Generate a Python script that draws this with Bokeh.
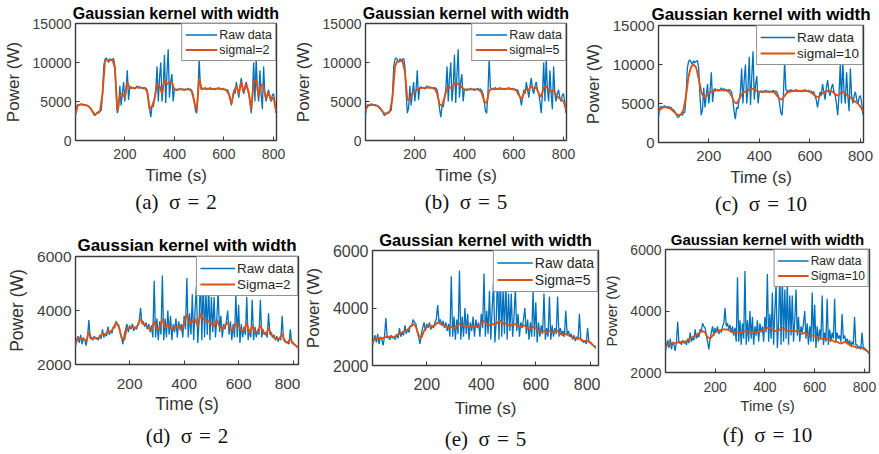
from bokeh.plotting import figure
from bokeh.layouts import column, row
from bokeh.models import Title, FixedTicker, Range1d, Legend, LegendItem
from bokeh.embed import file_html
from bokeh.resources import INLINE

# ---------------- data ----------------
# top row (same raw trace for a, b, c), sampled every 5 s from 0 to 810 s
t_raw_top = list(range(0, 815, 5))
raw_top = [
    3000, 4300, 4600, 4500, 4600, 4700, 4600, 4500, 4600, 4500,
    4500, 4300, 4200, 4000, 3700, 3300, 3200, 3500, 3600, 3500,
    3800, 3900, 6000, 9500, 10400, 10600, 10300, 10000, 10500, 10200,
    10400, 10500, 9500, 6000, 3500, 4200, 7000, 4500, 6000, 7500,
    5000, 6500, 9000, 5200, 6800, 6900, 6700, 6800, 6600, 6800,
    7000, 6700, 6900, 6700, 6800, 6600, 6800, 6700, 6500, 5500,
    4000, 3000, 4500, 4300, 5500, 6500, 9500, 5000, 8000, 10000,
    5000, 7000, 11000, 4800, 8500, 11700, 5500, 7500, 8500, 5000,
    6500, 6600, 6400, 6600, 6500, 6700, 6500, 6600, 6400, 6600,
    6500, 6700, 6500, 6600, 6400, 6000, 5000, 3800, 3500, 6000,
    10500, 6800, 6500, 6700, 6600, 6800, 6500, 6700, 6600, 6800,
    6500, 6700, 6600, 6500, 6700, 6600, 6800, 6500, 6600, 6700,
    6500, 6600, 6400, 6500, 6000, 5500, 4500, 5500, 6500, 6000,
    7500, 6500, 5500, 7000, 8000, 6500, 6000, 7000, 7500, 6500,
    6000, 5000, 3500, 6000, 10000, 5000, 10500, 6500, 5000, 9000,
    6000, 4000, 9500, 6000, 5000, 6000, 6500, 5500, 5000, 5800,
    6000, 5000, 3500,
]
# smoothed top traces, every 10 s from 0 to 810 s
t_s_top = list(range(0, 820, 10))
sig2_top = [
    3200, 4500, 4600, 4600, 4550, 4450, 4200, 3700, 3300, 3550,
    3800, 6000, 10200, 10300, 10300, 10400, 9300, 3800, 5800, 6000,
    5500, 7500, 6700, 6750, 6700, 6850, 6800, 6750, 6750, 6300,
    4000, 4400, 5300, 7300, 7000, 6000, 7800, 7200, 7500, 7500,
    6500, 6500, 6550, 6550, 6500, 6550, 6550, 6300, 5000, 3800,
    8000, 6600, 6650, 6600, 6650, 6600, 6600, 6650, 6650, 6600,
    6550, 6450, 5900, 4700, 6200, 7000, 6000, 7500, 6200, 7200,
    6200, 4000, 7500, 7800, 5600, 7200, 6800, 5300, 6200, 5200,
    5500, 3800,
]
sig5_top = [
    3800, 4400, 4550, 4550, 4500, 4400, 4100, 3700, 3400, 3500,
    3800, 5500, 9500, 10200, 10200, 10200, 8800, 5200, 5300, 6000,
    6200, 6600, 6700, 6750, 6750, 6800, 6800, 6750, 6700, 6000,
    4600, 4500, 5500, 6800, 6800, 6700, 7300, 7300, 7200, 6800,
    6550, 6500, 6550, 6550, 6550, 6550, 6500, 6100, 5000, 4800,
    6400, 6600, 6600, 6600, 6650, 6600, 6600, 6650, 6650, 6600,
    6550, 6400, 5800, 5300, 6000, 6600, 6500, 7000, 6600, 6800,
    6000, 5600, 6800, 7000, 6500, 6200, 6500, 5800, 5500, 5300,
    5000, 4000,
]
sig10_top = [
    4000, 4300, 4500, 4500, 4450, 4300, 4000, 3700, 3500, 3600,
    4200, 6000, 8500, 9700, 10000, 9600, 8200, 6500, 5800, 6000,
    6300, 6500, 6600, 6700, 6700, 6700, 6700, 6650, 6500, 6000,
    5200, 5000, 5500, 6200, 6500, 6500, 6800, 6900, 6800, 6600,
    6500, 6500, 6500, 6500, 6500, 6500, 6400, 6000, 5600, 5500,
    6000, 6400, 6500, 6600, 6600, 6600, 6600, 6600, 6600, 6600,
    6500, 6300, 6000, 5800, 6000, 6300, 6500, 6600, 6600, 6500,
    6200, 6000, 6300, 6500, 6300, 6000, 5800, 5500, 5200, 5000,
    4600, 4000,
]

# bottom row (same raw trace for d, e, f), every 5 s from 0 to 820 s
t_raw_bot = list(range(0, 825, 5))
raw_bot = [
    2650, 2900, 3050, 2800, 3100, 2750, 3000, 2900, 2700, 3000,
    3650, 2950, 3000, 2900, 3050, 2950, 3000, 2900, 3100, 2950,
    3300, 3000, 3150, 3050, 3400, 3100, 3250, 3150, 3400, 3350,
    3600, 3500, 3450, 3200, 3000, 2750, 3100, 3300, 3500, 3200,
    3450, 3300, 3500, 3250, 3400, 3300, 3500, 3600, 4100, 3500,
    3600, 3400, 3550, 3300, 3500, 3200, 3450, 3000, 5100, 3000,
    3700, 2900, 3600, 3100, 5300, 2900, 3700, 3000, 4000, 3100,
    3800, 2900, 3500, 3200, 3700, 3000, 3600, 3300, 3500, 3000,
    3800, 3300, 5200, 3000, 3900, 3100, 4600, 2900, 4000, 4900,
    2800, 3600, 5300, 2900, 5200, 3000, 4700, 3100, 5000, 2900,
    4500, 3200, 4500, 3000, 3700, 4700, 3200, 3800, 3000, 3500,
    3300, 3600, 4000, 3100, 3600, 2900, 3500, 3000, 4600, 3000,
    4200, 2800, 3500, 3000, 3400, 3100, 4500, 2900, 3300, 3000,
    4400, 2900, 3400, 3000, 3300, 3100, 4400, 3000, 3300, 3100,
    3200, 3000, 3900, 3100, 3200, 3000, 3100, 2900, 3050, 2850,
    3000, 2900, 3800, 2900, 2900, 2800, 2850, 2750, 3300, 2800,
    2800, 2750, 2700, 2650, 2600,
]
t_s_bot = list(range(0, 830, 10))
sig2_bot = [
    2700, 3000, 2950, 2950, 2850, 3200, 2950, 3000, 2950, 3000,
    3150, 3100, 3250, 3200, 3350, 3550, 3400, 3000, 2900, 3350,
    3350, 3400, 3350, 3450, 3700, 3500, 3450, 3350, 3250, 3600,
    3300, 3350, 3700, 3350, 3500, 3350, 3350, 3400, 3450, 3250,
    3550, 3850, 3500, 3600, 3700, 3400, 3900, 3700, 3600, 3600,
    3500, 3400, 3650, 3400, 3300, 3450, 3550, 3300, 3250, 3550,
    3450, 3250, 3250, 3550, 3150, 3450, 3200, 3200, 3450, 3200,
    3100, 3350, 3100, 3000, 2950, 2950, 3150, 2850, 2800, 2950,
    2780, 2700, 2620,
]
sig5_bot = [
    2750, 2950, 2950, 2950, 2950, 3000, 3000, 3000, 2980, 3050,
    3100, 3150, 3200, 3250, 3350, 3450, 3350, 3050, 2950, 3200,
    3350, 3400, 3350, 3400, 3500, 3450, 3400, 3350, 3300, 3350,
    3300, 3350, 3450, 3400, 3350, 3400, 3350, 3350, 3350, 3350,
    3450, 3550, 3450, 3400, 3450, 3400, 3500, 3550, 3450, 3450,
    3400, 3400, 3450, 3400, 3350, 3350, 3400, 3300, 3250, 3350,
    3300, 3200, 3150, 3200, 3150, 3200, 3150, 3200, 3200, 3100,
    3050, 3100, 3050, 3000, 2950, 2950, 2950, 2850, 2850, 2850,
    2800, 2700, 2650,
]
sig10_bot = [
    2800, 2900, 2950, 2950, 2950, 2980, 2980, 3000, 3000, 3050,
    3100, 3150, 3200, 3250, 3300, 3350, 3300, 3150, 3100, 3200,
    3300, 3350, 3350, 3400, 3400, 3400, 3350, 3300, 3300, 3300,
    3300, 3300, 3350, 3350, 3300, 3300, 3300, 3300, 3350, 3350,
    3400, 3450, 3450, 3400, 3350, 3350, 3400, 3450, 3400, 3350,
    3350, 3350, 3350, 3350, 3300, 3250, 3300, 3250, 3200, 3200,
    3200, 3150, 3100, 3100, 3100, 3100, 3050, 3050, 3000, 3000,
    2950, 2950, 3000, 2950, 2900, 2850, 2850, 2800, 2800, 2800,
    2750, 2700, 2650,
]

x_ticks = [200, 400, 600, 800]
y_ticks_top = [0, 5000, 10000, 15000]
y_ticks_bot = [2000, 4000, 6000]
title_text = "Gaussian kernel with width"
labels_top = ["sigmal=2", "sigmal=5", "sigmal=10"]
labels_bot = ["Sigma=2", "Sigma=5", "Sigma=10"]
captions = ["(a)\u2002\u03c3\u2004=\u20042", "(b)\u2002\u03c3\u2004=\u20045", "(c)\u2002\u03c3\u2004=\u200410",
            "(d)\u2002\u03c3\u2004=\u20042", "(e)\u2002\u03c3\u2004=\u20045", "(f)\u2002\u03c3\u2004=\u200410"]

BLUE = "#0072BD"
ORANGE = "#D95319"
SANS = "Liberation Sans"


def panel(t_raw, y_raw, t_s, y_s, label, caption, w, h, borders, xr, yr, yticks,
          fs_title, fs_tick, fs_lab, fs_leg, x_standoff, xlab_standoff, cap_standoff):
    left, right, top, bottom = borders
    p = figure(width=w, height=h, x_range=Range1d(*xr), y_range=Range1d(*yr),
               output_backend="svg", toolbar_location=None, title=title_text,
               min_border_left=left, min_border_right=right,
               min_border_top=top, min_border_bottom=bottom)
    p.background_fill_color = "white"
    p.border_fill_color = "white"
    p.outline_line_color = "#3a3a3a"
    p.outline_line_width = 1.4
    p.xgrid.visible = False
    p.ygrid.visible = False
    r1 = p.line(t_raw, y_raw, line_color=BLUE, line_width=1.3)
    r2 = p.line(t_s, y_s, line_color=ORANGE, line_width=1.9)

    p.title.align = "center"
    p.title.text_font = SANS
    p.title.text_font_style = "bold"
    p.title.text_font_size = f"{fs_title}px"
    p.title.text_color = "black"
    p.title.standoff = 3

    for ax in (p.xaxis[0], p.yaxis[0]):
        ax.axis_line_color = None
        ax.major_tick_in = 4
        ax.major_tick_out = 0
        ax.major_tick_line_color = "#3a3a3a"
        ax.minor_tick_line_color = None
        ax.major_label_text_font = SANS
        ax.major_label_text_font_size = f"{fs_tick}px"
        ax.major_label_text_color = "#404040"
        ax.axis_label_text_font = SANS
        ax.axis_label_text_font_size = f"{fs_lab}px"
        ax.axis_label_text_font_style = "normal"
        ax.axis_label_text_color = "#333333"
        ax.major_label_standoff = 4
    p.xaxis.major_label_standoff = x_standoff
    p.xaxis.ticker = FixedTicker(ticks=x_ticks)
    p.yaxis.ticker = FixedTicker(ticks=yticks)
    p.xaxis.axis_label = "Time (s)"
    p.yaxis.axis_label = "Power (W)"
    p.xaxis.axis_label_standoff = xlab_standoff
    p.yaxis.axis_label_standoff = 7

    leg = Legend(items=[LegendItem(label="Raw data", renderers=[r1]),
                        LegendItem(label=label, renderers=[r2])],
                 location="top_right", margin=0, padding=3, spacing=0,
                 glyph_width=int(fs_leg * 2.6), glyph_height=int(fs_leg * 1.25),
                 label_height=int(fs_leg * 1.25), label_standoff=2,
                 label_text_font=SANS, label_text_font_size=f"{fs_leg}px",
                 label_text_color="#262626",
                 border_line_color="#262626", border_line_width=1,
                 background_fill_color="white", background_fill_alpha=1.0)
    p.add_layout(leg)

    cap = Title(text=caption, align="center", text_font="Liberation Serif",
                text_font_size="21px", text_font_style="normal",
                text_color="#111111", standoff=cap_standoff)
    p.add_layout(cap, "below")
    return p


pa = panel(t_raw_top, raw_top, t_s_top, sig2_top, labels_top[0], captions[0], 290, 222,
           (73, 14, 23, 82), (1, 812), (0, 15000), y_ticks_top, 16, 14, 17, 12.5, 8, 4, 0)
pb = panel(t_raw_top, raw_top, t_s_top, sig5_top, labels_top[1], captions[1], 290, 222,
           (73, 14, 23, 82), (1, 812), (0, 15000), y_ticks_top, 16, 14, 17, 12.5, 8, 4, 0)
pc = panel(t_raw_top, raw_top, t_s_top, sig10_top, labels_top[2], captions[2], 299, 222,
           (76, 16, 25, 80), (1, 812), (0, 15000), y_ticks_top, 17, 15, 17, 13.5, 8, 4, 0)

pd = panel(t_raw_bot, raw_bot, t_s_bot, sig2_bot, labels_bot[0], captions[3], 300, 232,
           (75, 2, 34, 90), (1, 820), (2000, 6000), y_ticks_bot, 17, 15.5, 17.5, 13.5, 14, 2, 10)
pe = panel(t_raw_bot, raw_bot, t_s_bot, sig5_bot, labels_bot[1], captions[4], 300, 232,
           (70, 2, 28, 76), (1, 830), (2000, 6000), y_ticks_bot, 16.5, 16, 17, 14, 12, 6, 8)
pf = panel(t_raw_bot, raw_bot, t_s_bot, sig10_bot, labels_bot[2], captions[5], 279, 232,
           (63, 10, 27, 82), (1, 820), (2000, 6000), y_ticks_bot, 15, 14, 15, 12, 9, 2, 8)

layout = column(row(column(pa), column(pb), column(pc)),
                row(column(pd), column(pe), column(pf)))

open("out.html", "w").write(file_html(layout, INLINE))
